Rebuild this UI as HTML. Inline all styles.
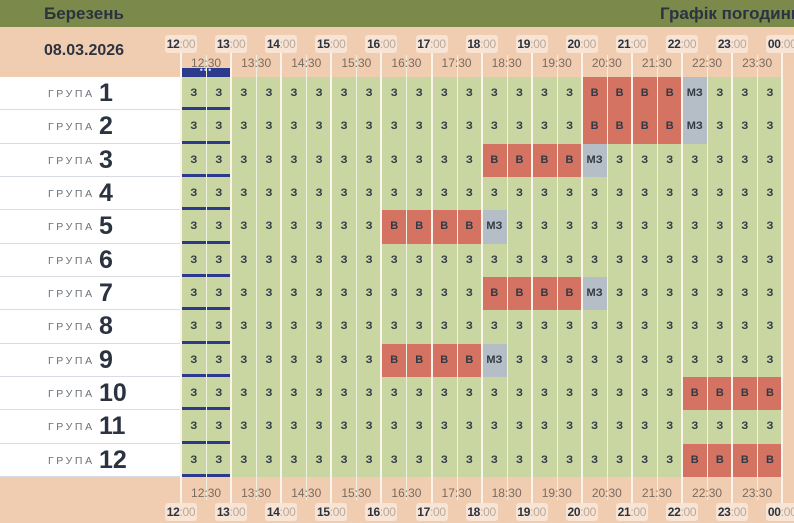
<!DOCTYPE html>
<html><head><meta charset="utf-8"><style>
*{margin:0;padding:0;box-sizing:border-box}
body{width:794px;height:523px;overflow:hidden;background:#f0cdb0;font-family:"Liberation Sans",sans-serif;position:relative}
.a{position:absolute}
.top{left:0;top:0;width:794px;height:27px;background:#7b8a4b}
.t{font-weight:bold;color:#2b3340;font-size:17px}
.hl{font-size:12px;color:#bba898;background:#f7e4d4;border-radius:3px;height:18px;line-height:18px;text-align:center;width:32px;letter-spacing:-0.3px}
.hl b{color:#2b3340}
.hh{font-size:12px;color:#7a6a60;width:44px;text-align:center}
.lab{left:0;width:181px;height:33.33px;background:#fff;border-bottom:1px solid #d8dde4}
.lab span{position:absolute;left:48px;top:11px;font-size:10.5px;letter-spacing:2.6px;color:#6a7078}
.lab b{position:absolute;left:99px;top:2px;font-size:25px;color:#2b3340}
.c{height:33.33px;font-size:11px;font-weight:bold;color:#2f3a46;text-align:center;line-height:33px}
.vl{width:1px;background:#eef2e0}
.hv{width:2px;background:#fbf4ec}
</style></head><body>
<div class="a top"></div>
<div class="a t" style="left:44px;top:4px">Березень</div>
<div class="a t" style="left:660px;top:4px;white-space:nowrap">Графік погодинних</div>
<div class="a t" style="left:44px;top:42px;font-size:16px">08.03.2026</div>
<div id="g"></div>
<script>
var g=document.getElementById('g'),h='';
var X0=181,W=25.05,Y0=77,H=33.33;
var red={1:[16,19,20],2:[16,19,20],3:[12,15,16],5:[8,11,12],7:[12,15,16],9:[8,11,12],10:[20,23,-1],12:[20,23,-1]};
for(var r=1;r<=12;r++){
 var y=Y0+(r-1)*H;
 h+='<div class="a lab" style="top:'+y+'px"><span>ГРУПА</span><b>'+r+'</b></div>';
 for(var c=0;c<24;c++){
  var bg='#c9d6a2',t='З';
  var rr=red[r];
  if(rr){if(c>=rr[0]&&c<=rr[1]){bg='#d57363';t='В'}else if(c==rr[2]){bg='#b5bec6';t='МЗ'}}
  h+='<div class="a c" style="left:'+(X0+c*W)+'px;top:'+y+'px;width:'+(W+0.5)+'px;background:'+bg+'">'+t+'</div>';
 }
 h+='<div class="a" style="left:181px;top:'+(y+H-3)+'px;width:50px;height:3px;background:#2b3a8c"></div>';
}
h+='<div class="a" style="left:181px;top:68px;width:50px;height:9px;background:#2b3a8c;color:#c8cff0;font-size:9px;line-height:4px;text-align:center;letter-spacing:1px">•••</div>';
for(var c=0;c<24;c++){
 var x=X0+c*W;
 if(c%2==1){h+='<div class="a vl" style="left:'+x+'px;top:55px;height:445px"></div>';}
 else{h+='<div class="a hv" style="left:'+(x-1)+'px;top:52px;height:455px"></div>';}
}
for(var c=0;c<24;c+=2){
 var lbl=(12+c/2)+':30';
 h+='<div class="a hh" style="left:'+(X0+(c+1)*W-22)+'px;top:56px">'+lbl+'</div>';
 h+='<div class="a hh" style="left:'+(X0+(c+1)*W-22)+'px;top:486px">'+lbl+'</div>';
}
h+='<div class="a hv" style="left:781px;top:52px;height:455px"></div>';
for(var i=0;i<=12;i++){
 var x=X0+i*2*W-16,hr=i==12?'00':(12+i);
 h+='<div class="a hl" style="left:'+x+'px;top:35px"><b>'+hr+'</b>:00</div>';
 h+='<div class="a hl" style="left:'+x+'px;top:503px"><b>'+hr+'</b>:00</div>';
}
g.innerHTML=h;
</script>
</body></html>
